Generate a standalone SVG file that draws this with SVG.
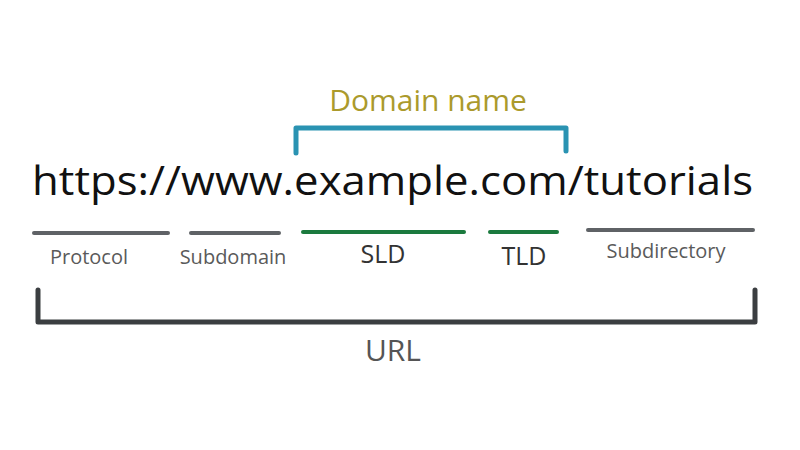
<svg xmlns="http://www.w3.org/2000/svg" width="800" height="450" viewBox="0 0 800 450">
<style>
.t{font-family:"Open Sans","Noto Sans","DejaVu Sans",sans-serif;}
.lbl{fill:#5a5a5a;font-size:20px;text-anchor:middle;}
.lbl2{fill:#333;font-size:25px;text-anchor:middle;}
.gray{stroke:#5f6266;stroke-width:4;stroke-linecap:round;fill:none;}
.green{stroke:#1b7a3e;stroke-width:4;stroke-linecap:round;fill:none;}
</style>
<rect width="800" height="450" fill="#ffffff"/>
<g id="domain-name">
<path d="M296,153 V128 H566 V151" fill="none" stroke="#2a93b2" stroke-width="5" stroke-linecap="round" stroke-linejoin="round"/>
<text class="t" x="428" y="111" font-size="30" fill="#ab9a2c" text-anchor="middle">Domain name</text>
</g>
<g id="url-text">
<text class="t" x="32" y="195" font-size="41" fill="#111" textLength="721" lengthAdjust="spacingAndGlyphs">https://www.example.com/tutorials</text>
</g>
<g id="connectors">
<line class="gray" x1="34" y1="233" x2="168" y2="233"/>
<line class="gray" x1="191" y1="233" x2="279" y2="233"/>
<line class="green" x1="303" y1="232" x2="464" y2="232"/>
<line class="green" x1="490" y1="232" x2="557" y2="232"/>
<line class="gray" x1="588" y1="230" x2="753" y2="230"/>
</g>
<g id="protocol"><text class="t lbl" x="89" y="264">Protocol</text></g>
<g id="subdomain"><text class="t lbl" x="233" y="264">Subdomain</text></g>
<g id="sld"><text class="t lbl2" x="383" y="263">SLD</text></g>
<g id="tld"><text class="t lbl2" x="524" y="265">TLD</text></g>
<g id="subdirectory"><text class="t lbl" x="666" y="258">Subdirectory</text></g>
<g id="url">
<path d="M38,290 V322 H755 V290" fill="none" stroke="#3b3e41" stroke-width="5" stroke-linecap="round" stroke-linejoin="round"/>
<text class="t" x="393" y="361" font-size="30" fill="#555" text-anchor="middle">URL</text>
</g>
</svg>
